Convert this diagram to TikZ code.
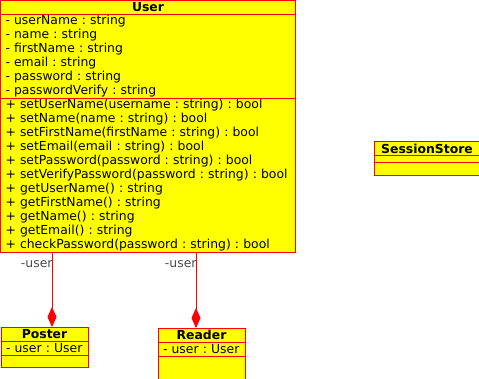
\documentclass[tikz,border=0pt]{standalone}
\usepackage{fontspec}
\setmainfont{DejaVu Sans}
\usetikzlibrary{positioning, arrows.meta}
\definecolor{classfill}{RGB}{255,255,0}
\definecolor{classline}{RGB}{255,0,0}
\frenchspacing

\begin{document}
\begin{tikzpicture}[x=1pt, y=-1pt,
    every node/.style={font=\fontsize{12.4}{14}\selectfont},
    classpart/.style={draw=classline, fill=classfill, line width=1pt, outer sep=0pt, inner sep=0pt, text=black},
    classname/.style={classpart, font=\fontsize{12.4}{14}\selectfont\bfseries, minimum height=14pt},
    member/.style={classpart, align=left, inner xsep=5pt},
    composition/.style={draw=classline, line width=1pt, -{Diamond[length=20pt, width=9pt]}},
    rolename/.style={text=black!70, inner sep=0pt, anchor=north east, xshift=1pt, yshift=-7.5pt}]

    \clip (0,0) rectangle (479,379);%page size
    \fill[white] (0,0) rectangle (479,379);

    %class User
    \node (userName) [classname, minimum width=295pt, anchor=north west] at (0.5,0.5) {User};%name
    \node (userAttr) [member, text width=285pt, minimum height=84pt, below=0pt of userName]
    {- userName : string\\- name : string\\- firstName : string\\- email : string\\- password : string\\- passwordVerify : string};%attributes
    \node (userOps) [member, text width=285pt, minimum height=154pt, below=0pt of userAttr]
    {+ setUserName(username : string) : bool\\+ setName(name : string) : bool\\+ setFirstName(firstName : string) : bool\\+ setEmail(email : string) : bool\\+ setPassword(password : string) : bool\\+ setVerifyPassword(password : string) : bool\\+ getUserName() : string\\+ getFirstName() : string\\+ getName() : string\\+ getEmail() : string\\+ checkPassword(password : string) : bool};%operations

    %class SessionStore
    \node (storeName) [classname, minimum width=106pt, anchor=north west] at (374,142) {SessionStore};
    \node (storeAttr) [member, minimum width=106pt, minimum height=7pt, below=0pt of storeName] {};
    \node (storeOps) [member, minimum width=106pt, minimum height=13pt, below=0pt of storeAttr] {};

    %class Poster
    \node (posterName) [classname, minimum width=87pt, anchor=north west] at (1,327) {Poster};
    \node (posterAttr) [member, text width=77pt, minimum height=14pt, below=0pt of posterName] {- user : User};
    \node (posterOps) [member, minimum width=87pt, minimum height=12pt, below=0pt of posterAttr] {};

    %class Reader
    \node (readerName) [classname, minimum width=87pt, anchor=north west] at (158,328) {Reader};
    \node (readerAttr) [member, text width=77pt, minimum height=14pt, below=0pt of readerName] {- user : User};
    \node (readerOps) [member, minimum width=87pt, minimum height=40pt, below=0pt of readerAttr] {};

    %composition ends on the part classes
    \coordinate (posterEnd) at ([xshift=51pt]posterName.north west);
    \coordinate (readerEnd) at ([xshift=38pt]readerName.north west);

    \draw[composition] (userOps.south -| posterEnd) node[rolename]{-user} -- (posterEnd);%Poster has a user
    \draw[composition] (userOps.south -| readerEnd) node[rolename]{-user} -- (readerEnd);%Reader has a user
\end{tikzpicture}
\end{document}
